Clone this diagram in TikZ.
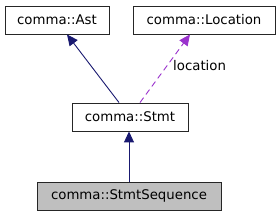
\documentclass[tikz,border=0pt]{standalone}
\usepackage{fontspec}
\setmainfont{DejaVu Sans}
\usetikzlibrary{arrows.meta}
\definecolor{inh}{HTML}{191970}
\definecolor{usage}{HTML}{9A32CD}
\definecolor{cur}{HTML}{BFBFBF}
\begin{document}
\begin{tikzpicture}[x=1pt,y=-1pt,
  cls/.style={draw=black!85,line width=0.9pt,fill=white,inner sep=0pt,font=\fontsize{13.3}{16}\selectfont},
  inherit/.style={draw=inh,line width=0.9pt,-{Triangle[length=11pt,width=10pt]}},
  uses/.style={draw=usage,line width=0.9pt,dash pattern=on 6pt off 4pt,-{Triangle[length=11pt,width=10pt]}},
  lbl/.style={font=\fontsize{13.3}{16}\selectfont,inner sep=0pt,anchor=west}]
\useasboundingbox (0,0) rectangle (277,216);
\node[cls,minimum width=104pt,minimum height=28pt] (ast) at (57,20) {comma::Ast};
\node[cls,minimum width=142pt,minimum height=28pt] (loc) at (204,20) {comma::Location};
\node[cls,minimum width=116pt,minimum height=28pt] (stmt) at (130,117) {comma::Stmt};
\node[cls,fill=cur,minimum width=184pt,minimum height=28pt] (seq) at (129,196) {comma::StmtSequence};
\draw[inherit] (seq.north -| 129,0) -- (stmt.south -| 129,0);
\draw[inherit] (stmt.north -| 119,0) -- (ast.south -| 67,0);
\draw[uses] (stmt.north -| 140,0) -- (loc.south -| 190,0);
\node[lbl] (lab) at (173,66) {location};
\end{tikzpicture}
\end{document}
